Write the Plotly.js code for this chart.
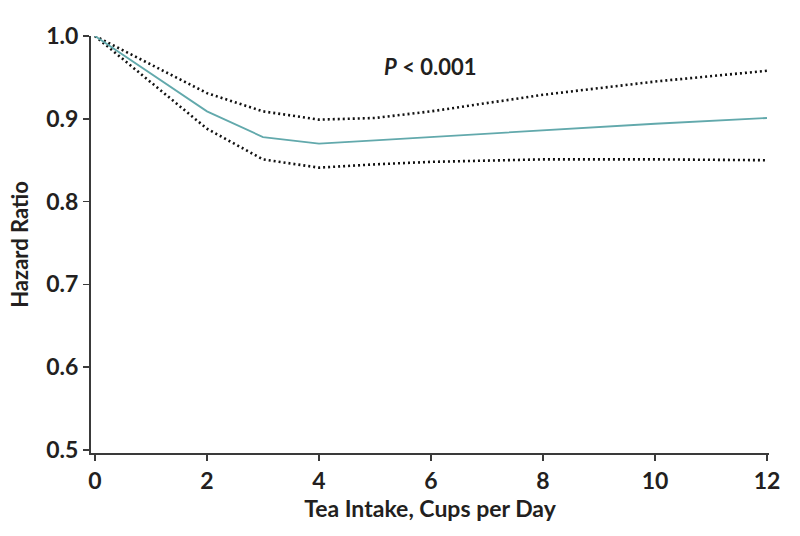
<!DOCTYPE html>
<html>
<head>
<meta charset="utf-8">
<script src="https://cdn.plot.ly/plotly-3.0.1.min.js"></script>
<style>html,body{margin:0;padding:0;background:#fff;}#chart{width:800px;height:536px;}</style>
</head>
<body>
<div id="chart"></div>
<script>
const cups = [0, 2, 3, 4, 5, 6, 8, 10, 12];
const hazardRatio = [1.0, 0.909, 0.878, 0.870, 0.874, 0.878, 0.886, 0.894, 0.901];
const upperCI = [1.0, 0.931, 0.909, 0.899, 0.901, 0.909, 0.929, 0.945, 0.958];
const lowerCI = [1.0, 0.888, 0.851, 0.841, 0.845, 0.848, 0.851, 0.851, 0.850];
const xTicks = [0, 2, 4, 6, 8, 10, 12];
const yTicks = [0.5, 0.6, 0.7, 0.8, 0.9, 1.0];
const yTickText = ['0.5', '0.6', '0.7', '0.8', '0.9', '1.0'];

const FONT = 'Lato, "Open Sans", sans-serif';
const dotLine = {color: '#111', width: 2.6, dash: '2px,3px'};

const traces = [
  {x: cups, y: upperCI, mode: 'lines', line: dotLine, hoverinfo: 'skip', cliponaxis: false},
  {x: cups, y: lowerCI, mode: 'lines', line: dotLine, hoverinfo: 'skip', cliponaxis: false},
  {x: cups, y: hazardRatio, mode: 'lines', line: {color: '#62a9ac', width: 1.8}, cliponaxis: false}
];

const layout = {
  width: 800, height: 536,
  margin: {l: 91, r: 31, t: 36, b: 83},
  paper_bgcolor: '#fff', plot_bgcolor: '#fff',
  showlegend: false,
  font: {family: FONT, color: '#231f20'},
  xaxis: {
    range: [-0.071, 12.036], tickvals: xTicks, ticktext: xTicks.map(String),
    showgrid: false, zeroline: false, showline: true, linecolor: '#3a3a3a', linewidth: 2,
    ticks: 'outside', ticklen: 6, tickwidth: 1.6, tickcolor: '#3a3a3a',
    tickfont: {family: FONT, size: 23, weight: 700, color: '#231f20'},
    title: {text: 'Tea Intake, Cups per Day', standoff: 8, font: {family: FONT, size: 23, weight: 700, color: '#231f20'}}
  },
  yaxis: {
    range: [0.4964, 1.0], tickvals: yTicks, ticktext: yTickText,
    showgrid: false, zeroline: false, showline: true, linecolor: '#3a3a3a', linewidth: 2,
    ticks: 'outside', ticklen: 6, tickwidth: 1.6, tickcolor: '#3a3a3a',
    tickfont: {family: FONT, size: 23, weight: 700, color: '#231f20'},
    title: {text: 'Hazard Ratio', standoff: 12, font: {family: FONT, size: 22, weight: 700, color: '#231f20'}}
  },
  annotations: [{
    xref: 'paper', yref: 'paper', x: (430 - 91) / 678, y: 1 - (66 - 36) / 417,
    text: '<i>P</i> < 0.001', showarrow: false, xanchor: 'center', yanchor: 'middle',
    font: {family: FONT, size: 22, weight: 700, color: '#231f20'}
  }]
};

Plotly.newPlot('chart', traces, layout, {displayModeBar: false, staticPlot: true});
</script>
</body>
</html>
